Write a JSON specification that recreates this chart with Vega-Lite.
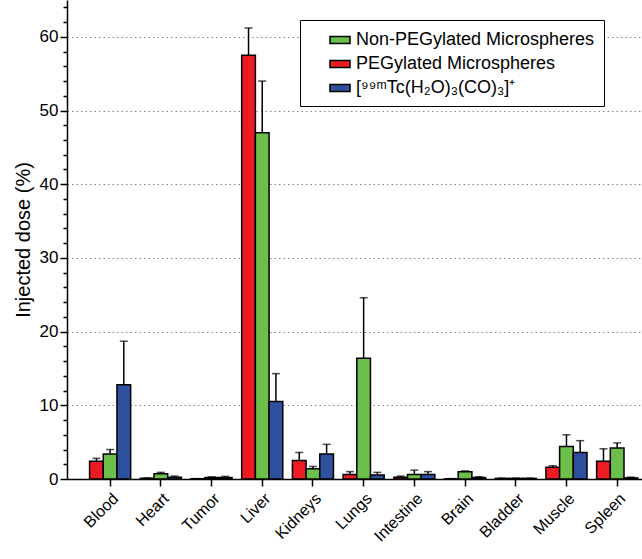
{
  "$schema": "https://vega.github.io/schema/vega-lite/v6.json",
  "autosize": "none",
  "width": 575,
  "height": 479,
  "padding": {"left": 67, "top": 0, "right": 0, "bottom": 80},
  "background": "white",
  "config": {
    "font": "Liberation Sans",
    "view": {"stroke": null},
    "axis": {"labelFont": "Liberation Sans", "titleFont": "Liberation Sans", "labelColor": "black", "titleColor": "black", "domainColor": "black", "tickColor": "black"}
  },
  "data": {
    "values": [
      {"organ": "Blood", "series": "PEG", "value": 2.4, "upper": 2.8},
      {"organ": "Blood", "series": "NonPEG", "value": 3.4, "upper": 4.0},
      {"organ": "Blood", "series": "Tc", "value": 12.8, "upper": 18.7},
      {"organ": "Heart", "series": "PEG", "value": 0.1, "upper": 0.15},
      {"organ": "Heart", "series": "NonPEG", "value": 0.7, "upper": 0.9},
      {"organ": "Heart", "series": "Tc", "value": 0.25, "upper": 0.4},
      {"organ": "Tumor", "series": "PEG", "value": 0.03, "upper": 0.05},
      {"organ": "Tumor", "series": "NonPEG", "value": 0.2, "upper": 0.3},
      {"organ": "Tumor", "series": "Tc", "value": 0.2, "upper": 0.35},
      {"organ": "Liver", "series": "PEG", "value": 57.5, "upper": 61.2},
      {"organ": "Liver", "series": "NonPEG", "value": 47.0, "upper": 54.0},
      {"organ": "Liver", "series": "Tc", "value": 10.5, "upper": 14.3},
      {"organ": "Kidneys", "series": "PEG", "value": 2.5, "upper": 3.6},
      {"organ": "Kidneys", "series": "NonPEG", "value": 1.4, "upper": 1.7},
      {"organ": "Kidneys", "series": "Tc", "value": 3.4, "upper": 4.7},
      {"organ": "Lungs", "series": "PEG", "value": 0.6, "upper": 1.0},
      {"organ": "Lungs", "series": "NonPEG", "value": 16.4, "upper": 24.6},
      {"organ": "Lungs", "series": "Tc", "value": 0.55, "upper": 0.9},
      {"organ": "Intestine", "series": "PEG", "value": 0.25, "upper": 0.4},
      {"organ": "Intestine", "series": "NonPEG", "value": 0.6, "upper": 1.2},
      {"organ": "Intestine", "series": "Tc", "value": 0.6, "upper": 1.0},
      {"organ": "Brain", "series": "PEG", "value": 0.03, "upper": 0.05},
      {"organ": "Brain", "series": "NonPEG", "value": 1.0, "upper": 1.1},
      {"organ": "Brain", "series": "Tc", "value": 0.2, "upper": 0.3},
      {"organ": "Bladder", "series": "PEG", "value": 0.08, "upper": 0.12},
      {"organ": "Bladder", "series": "NonPEG", "value": 0.08, "upper": 0.12},
      {"organ": "Bladder", "series": "Tc", "value": 0.08, "upper": 0.12},
      {"organ": "Muscle", "series": "PEG", "value": 1.6, "upper": 1.8},
      {"organ": "Muscle", "series": "NonPEG", "value": 4.4, "upper": 6.0},
      {"organ": "Muscle", "series": "Tc", "value": 3.6, "upper": 5.2},
      {"organ": "Spleen", "series": "PEG", "value": 2.4, "upper": 4.1},
      {"organ": "Spleen", "series": "NonPEG", "value": 4.2, "upper": 4.9},
      {"organ": "Spleen", "series": "Tc", "value": 0.15, "upper": 0.25}
    ]
  },
  "encoding": {
    "x": {
      "field": "organ",
      "type": "nominal",
      "sort": ["Blood", "Heart", "Tumor", "Liver", "Kidneys", "Lungs", "Intestine", "Brain", "Bladder", "Muscle", "Spleen"],
      "scale": {"paddingInner": 0.19, "paddingOuter": 0.265, "align": 0.84},
      "axis": {
        "title": null,
        "labelAngle": -45,
        "labelAlign": "right",
        "labelBaseline": "top",
        "labelFontSize": 16,
        "labelPadding": 4,
        "tickSize": 7,
        "tickWidth": 1.5,
        "domainWidth": 1.5
      }
    },
    "xOffset": {
      "field": "series",
      "type": "nominal",
      "scale": {"domain": ["PEG", "NonPEG", "Tc"], "paddingInner": 0, "paddingOuter": 0}
    }
  },
  "layer": [
    {
      "mark": {"type": "bar", "stroke": "black", "strokeWidth": 1.5},
      "encoding": {
        "y": {
          "field": "value",
          "type": "quantitative",
          "scale": {"domain": [0, 65], "nice": false},
          "axis": {
            "title": "Injected dose (%)",
            "titleFontSize": 20,
            "titleFontWeight": "normal",
            "titlePadding": 6,
            "values": [0, 2, 4, 6, 8, 10, 12, 14, 16, 18, 20, 22, 24, 26, 28, 30, 32, 34, 36, 38, 40, 42, 44, 46, 48, 50, 52, 54, 56, 58, 60, 62, 64],
            "tickCount": 100,
            "format": "d",
            "labelExpr": "datum.value % 10 === 0 ? datum.label : ''",
            "labelOverlap": false,
            "labelFontSize": 17,
            "labelPadding": 2,
            "tickSize": {"condition": {"test": "datum.value % 10 === 0", "value": 7}, "value": 4},
            "tickWidth": 1.5,
            "domainWidth": 1.5,
            "grid": true,
            "gridColor": "#888888",
            "gridDash": [1.5, 3],
            "gridWidth": 1,
            "gridOpacity": {"condition": {"test": "datum.value % 10 === 0 && datum.value > 0", "value": 1}, "value": 0}
          }
        },
        "color": {
          "field": "series",
          "type": "nominal",
          "scale": {
            "domain": ["NonPEG", "PEG", "Tc"],
            "range": ["#6cbf4a", "#ed1c24", "#2f4f9f"]
          },
          "legend": {
            "title": null,
            "orient": "none",
            "legendX": 233,
            "legendY": 20,
            "direction": "vertical",
            "labelExpr": "datum.value === 'NonPEG' ? 'Non-PEGylated Microspheres' : datum.value === 'PEG' ? 'PEGylated Microspheres' : '[⁹⁹ᵐTc(H₂O)₃(CO)₃]⁺'",
            "labelFontSize": 18,
            "labelColor": "black",
            "labelFont": "Liberation Sans",
            "labelOffset": 5,
            "symbolType": "M-1,-0.35H1V0.35H-1Z",
            "symbolSize": 400,
            "symbolStrokeColor": "black",
            "symbolStrokeWidth": 1.5,
            "symbolOpacity": 1,
            "symbolOffset": 20,
            "rowPadding": 4,
            "padding": 9,
            "strokeColor": "black",
            "fillColor": "white",
            "labelLimit": 400
          }
        }
      }
    },
    {
      "mark": {"type": "rule", "color": "black", "strokeWidth": 1.5},
      "encoding": {
        "y": {"field": "value", "type": "quantitative"},
        "y2": {"field": "upper"}
      }
    },
    {
      "mark": {"type": "tick", "color": "black", "thickness": 1.5, "size": 8},
      "encoding": {
        "y": {"field": "upper", "type": "quantitative"}
      }
    }
  ]
}
